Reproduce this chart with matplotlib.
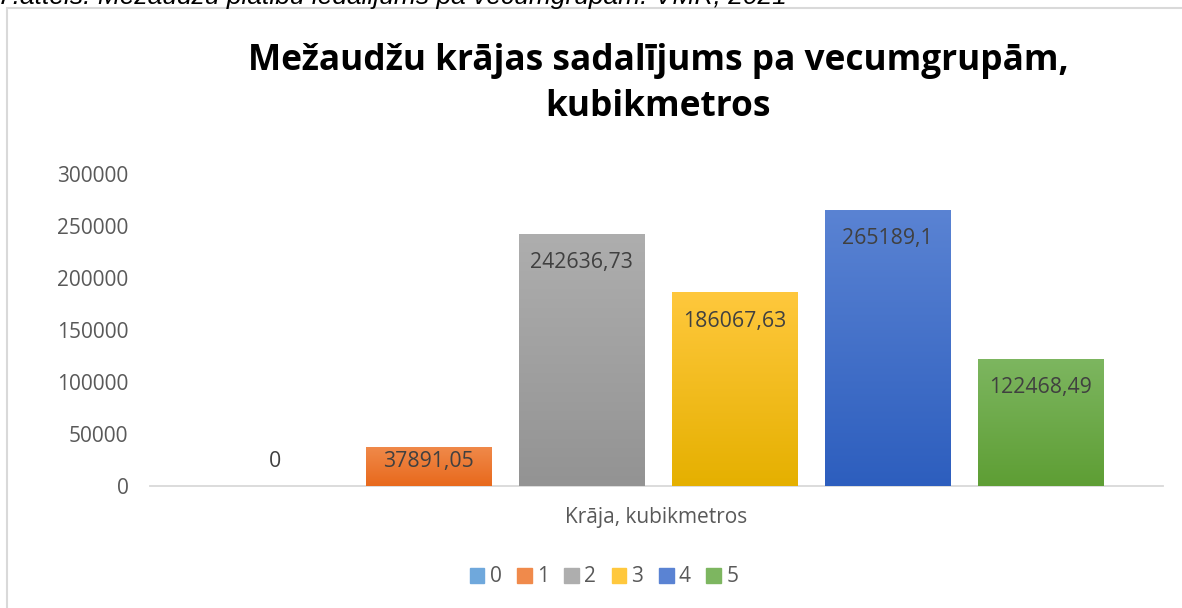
import numpy as np
import matplotlib.pyplot as plt
from matplotlib.patches import Rectangle
from matplotlib.colors import LinearSegmentedColormap

# Dati
grupas = ['0', '1', '2', '3', '4', '5']
kraja = [0, 37891.05, 242636.73, 186067.63, 265189.1, 122468.49]
y_ticks = [0, 50000, 100000, 150000, 200000, 250000, 300000]

# krāsas: augša (gaišāka) -> apakša (tumšāka)
krasas = [('#6FA8DC', '#4A89C8'), ('#F08A4B', '#E8691C'), ('#AEAEAE', '#939393'),
          ('#FFC83D', '#E5B000'), ('#5A83D3', '#2D5EBE'), ('#7DB660', '#5E9E34')]

plt.rcParams['font.family'] = ['Open Sans', 'DejaVu Sans']

W, H = 1182, 608
fig = plt.figure(figsize=(W / 100, H / 100), dpi=100)

# rāmis ap diagrammu
fig.patches.append(Rectangle((7 / W, -0.05), 1.2, (H - 8) / H + 0.05, transform=fig.transFigure,
                             fill=False, edgecolor='#D9D9D9', linewidth=1.5))

# nogriezts paraksts augšā
fig.text(-2 / W, (H - 4) / H, '7.attēls. Mežaudžu platību iedalījums pa vecumgrupām. VMR, 2021',
         fontsize=19, style='italic', family='Liberation Sans', va='baseline', ha='left')

ax = fig.add_axes([150 / W, (H - 486) / H, 1013 / W, 312 / H])
x = np.arange(len(grupas))
bars = ax.bar(x, kraja, width=0.817, color='none', edgecolor='none')

for b, (c_top, c_bot), v in zip(bars, krasas, kraja):
    b.set_facecolor(c_top)
    x0, w = b.get_x(), b.get_width()
    if v > 0:
        cmap = LinearSegmentedColormap.from_list('g', [c_bot, c_top])
        grad = np.linspace(0, 1, 256).reshape(-1, 1)
        im = ax.imshow(grad, cmap=cmap, aspect='auto', origin='lower',
                       extent=(x0, x0 + w, 0, v), zorder=2)
        im.set_clip_path(b)

off = 27500
min_y = 24000
for xi, v in zip(x, kraja):
    lbl = ('%.2f' % v).rstrip('0').rstrip('.').replace('.', ',')
    ax.text(xi, max(v - off, min_y), lbl, ha='center', va='center',
            fontsize=15.3, color='#404040', zorder=3)

ax.set_xlim(-0.82, 5.80)
ax.set_ylim(0, 300000)
ax.set_yticks(y_ticks)
ax.set_yticklabels([str(t) for t in y_ticks])
ax.set_xticks([])
ax.tick_params(axis='y', length=0, pad=15.5, labelsize=15, labelcolor='#595959')
for s in ['top', 'right', 'left']:
    ax.spines[s].set_visible(False)
ax.spines['bottom'].set_color('#D9D9D9')
ax.spines['bottom'].set_linewidth(1.3)
ax.spines['bottom'].set_zorder(1)

ax.set_xlabel('Krāja, kubikmetros', fontsize=15, color='#595959', labelpad=15)

fig.text(658 / W, (H - 84) / H, 'Mežaudžu krājas sadalījums pa vecumgrupām,\nkubikmetros',
         ha='center', va='center', fontsize=25.4, fontweight='bold', color='black',
         linespacing=1.35)

# leģenda
handles = [Rectangle((0, 0), 1, 1, color=c[0]) for c in krasas]
fig.legend(handles, grupas, loc='center', bbox_to_anchor=(604 / W, (H - 577) / H),
           ncol=6, frameon=False, fontsize=15, handlelength=0.7, handleheight=0.7,
           handletextpad=0.25, columnspacing=0.75, labelcolor='#595959')

fig.savefig('out.png', dpi=100)
